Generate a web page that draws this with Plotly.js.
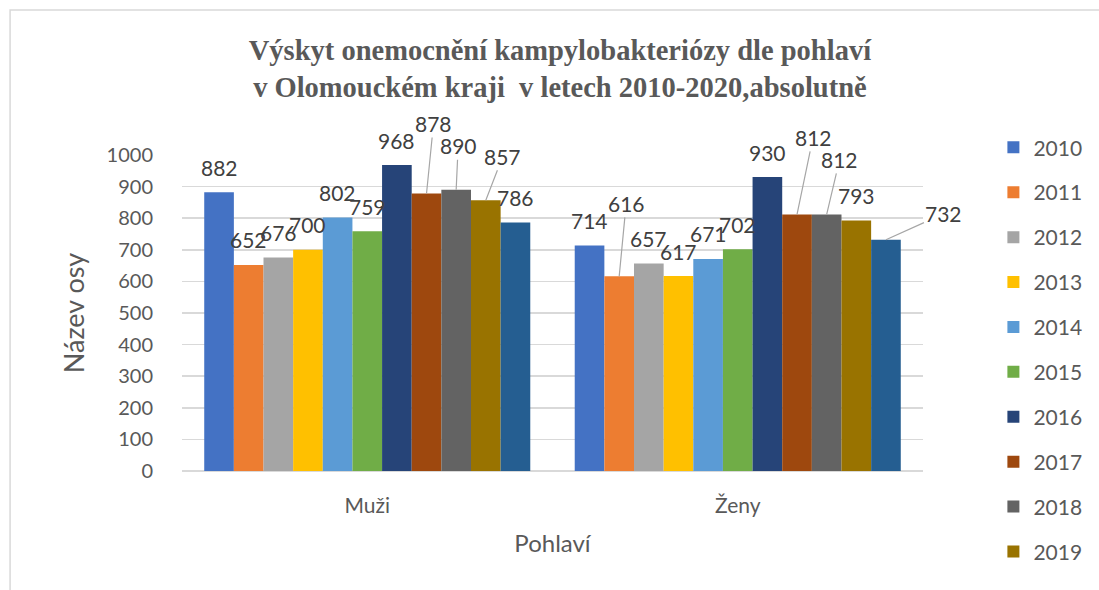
<!DOCTYPE html>
<html>
<head>
<meta charset="utf-8">
<script src="https://cdn.plot.ly/plotly-3.0.1.min.js"></script>
<style>html,body{margin:0;padding:0;background:#fff;}#chart{width:1099px;height:590px;}</style>
</head>
<body>
<div id="chart"></div>
<script>
const categories = ["Muži", "Ženy"];
const years = ["2010","2011","2012","2013","2014","2015","2016","2017","2018","2019","2020"];
const muzi = [882, 652, 676, 700, 802, 759, 968, 878, 890, 857, 786];
const zeny = [714, 616, 657, 617, 671, 702, 930, 812, 812, 793, 732];
const colors = ["#4472C4","#ED7D31","#A5A5A5","#FFC000","#5B9BD5","#70AD47","#264478","#9E480E","#636363","#997300","#255E91"];

// label placement (pixel offsets of moved data labels, with leader lines)
const movedLabels = {
  "0-7": [7, -70], "0-8": [2, -44], "0-9": [17, -44],
  "1-1": [7, -73], "1-7": [16, -77], "1-8": [13, -55], "1-10": [58, -26]
};

const baseFont = "Lato, 'Open Sans', sans-serif";
const bargap = 0.12;
const nSeries = years.length;
const barW = (1 - bargap) / nSeries;

const traces = years.map((y, i) => ({
  type: "bar",
  name: y,
  x: categories,
  y: [muzi[i], zeny[i]],
  marker: {color: colors[i], line: {width: 0}},
  legendgroup: y,
  showlegend: i < 10,
  hoverinfo: "x+y+name"
}));

const annotations = [];
[muzi, zeny].forEach((vals, c) => {
  vals.forEach((v, i) => {
    const xpos = c - (1 - bargap) / 2 + barW / 2 + barW * i;
    const key = c + "-" + i;
    const base = {
      x: xpos, y: v, xref: "x", yref: "y", text: String(v),
      font: {family: baseFont, size: 21, color: "#404040"}
    };
    if (movedLabels[key]) {
      annotations.push(Object.assign(base, {
        showarrow: true, arrowhead: 0, arrowwidth: 1.2, arrowcolor: "#a6a6a6",
        ax: movedLabels[key][0], ay: movedLabels[key][1], standoff: 0
      }));
    } else {
      annotations.push(Object.assign(base, {
        showarrow: false, yanchor: "middle", xanchor: "center", yshift: 25
      }));
    }
  });
});

const layout = {
  width: 1099, height: 590,
  margin: {l: 182, r: 167, t: 155, b: 119},
  paper_bgcolor: "#ffffff", plot_bgcolor: "#ffffff",
  barmode: "group", bargap: bargap, bargroupgap: 0,
  title: {
    text: "<b>Výskyt onemocnění kampylobakteriózy dle pohlaví<br>v Olomouckém kraji  v letech 2010-2020,absolutně</b>",
    font: {family: "'Liberation Serif', 'Times New Roman', serif", size: 28.5, color: "#595959"},
    x: 0.51, xanchor: "center", xref: "paper",
    y: 0.898, yanchor: "middle", yref: "container"
  },
  xaxis: {
    type: "category", range: [-0.5, 1.5], autorange: false,
    showgrid: false, showline: false, zeroline: false, ticks: "",
    tickfont: {family: baseFont, size: 21, color: "#595959"},
    ticklabelstandoff: 20,
    title: {text: "Pohlaví", font: {family: baseFont, size: 24, color: "#595959"}, standoff: 19}
  },
  yaxis: {
    range: [0, 1000], autorange: false, dtick: 100, tick0: 0,
    showgrid: true, gridcolor: "#d9d9d9", gridwidth: 1.5,
    zeroline: true, zerolinecolor: "#d9d9d9", zerolinewidth: 1.5,
    showline: false, ticks: "",
    tickfont: {family: baseFont, size: 20, color: "#595959"},
    ticklabelstandoff: 28,
    title: {text: "Název osy", font: {family: baseFont, size: 27, color: "#595959"}, standoff: 14}
  },
  legend: {
    x: 1.095, xanchor: "left", y: 1.088, yanchor: "top",
    font: {family: baseFont, size: 21, color: "#595959"},
    traceorder: "grouped", tracegroupgap: 14.6,
    itemwidth: 30, maxheight: 1000
  },
  annotations: annotations,
  shapes: [{
    type: "rect", xref: "paper", yref: "paper",
    x0: -0.232, x1: 2, y0: -1, y1: 1.459,
    line: {color: "#d9d9d9", width: 1.5}, fillcolor: "rgba(0,0,0,0)", layer: "below"
  }]
};

Plotly.newPlot("chart", traces, layout, {displayModeBar: false, staticPlot: true});
</script>
</body>
</html>
